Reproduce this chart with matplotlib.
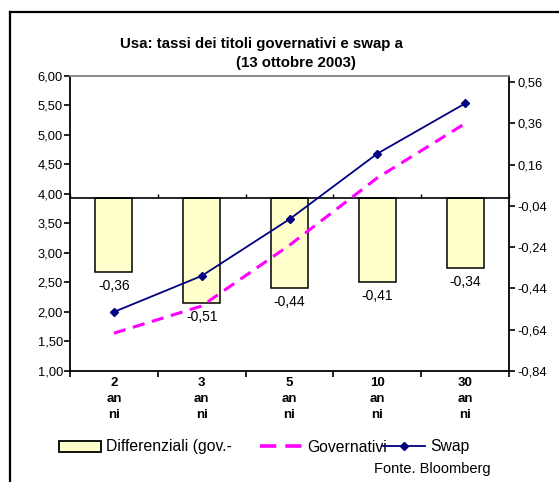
import numpy as np
import matplotlib
matplotlib.use("Agg")
import matplotlib.pyplot as plt
from matplotlib.lines import Line2D
from matplotlib.patches import Patch
from matplotlib.ticker import FixedLocator, FuncFormatter

plt.rcParams['font.family'] = ['Liberation Sans', 'DejaVu Sans']

# scadenze e tassi
scadenze = ["2\nan\nni", "3\nan\nni", "5\nan\nni", "10\nan\nni", "30\nan\nni"]
swap = [2.00, 2.61, 3.57, 4.68, 5.53]
differenziali = [-0.36, -0.51, -0.44, -0.41, -0.34]
governativi = [s + d for s, d in zip(swap, differenziali)]

left_ticks = np.arange(1.0, 6.01, 0.5)
right_ticks = np.round(np.arange(-0.84, 0.57, 0.2), 2)

comma = FuncFormatter(lambda v, _: f"{v:.2f}".replace(".", ","))

fig = plt.figure(figsize=(5.59, 4.82), dpi=100)
ax = fig.add_axes([0.1252, 0.2303, 0.7854, 0.6127])
ax2 = ax.twinx()

x = np.arange(len(scadenze))

# differenziali su scala destra (dietro le linee)
bars = ax2.bar(x, differenziali, width=0.42, color="#FFFFCC", edgecolor="black",
               linewidth=1.1, zorder=2)
for xi, d in zip(x, differenziali):
    ax2.annotate(f"{d:.2f}".replace(".", ","), (xi, d), xytext=(0, -5),
                 textcoords="offset points", ha="center", va="top", fontsize=10)
ax2.set_ylim(-0.84, 0.591)
ax2.yaxis.set_major_locator(FixedLocator(right_ticks))
ax2.yaxis.set_major_formatter(comma)
ax2.tick_params(axis="y", direction="out", length=4, width=1.2, labelsize=9.3, pad=2)

# linea dello zero con tacche tra le categorie
ax2.xaxis.set_visible(True)
ax2.spines["bottom"].set_position(("data", 0))
ax2.spines["bottom"].set_linewidth(1.2)
ax2.spines["left"].set_visible(False)
ax2.spines["top"].set_visible(False)
ax2.spines["right"].set_linewidth(1.3)
ax2.tick_params(axis="x", which="major", length=0, labelbottom=False)
ax2.tick_params(axis="x", which="minor", direction="in", length=3, width=1.0,
                labelbottom=False)

# tassi su scala sinistra
ax.plot(x, governativi, color="#FF00FF", lw=2.2, dashes=(4, 2.5),
        label="Governativi", zorder=3)
ax.plot(x, swap, color="#000080", lw=1.3, marker="D", markersize=4,
        label="Swap", zorder=4)
ax.set_zorder(ax2.get_zorder() + 1)
ax.patch.set_visible(False)

ax.set_ylim(1.0, 6.0)
ax.yaxis.set_major_locator(FixedLocator(left_ticks))
ax.yaxis.set_major_formatter(comma)
ax.tick_params(axis="y", direction="out", length=4, width=1.2, labelsize=9.3, pad=1)

ax.set_xlim(-0.5, len(scadenze) - 0.5)
ax.set_xticks(x)
ax.set_xticklabels(scadenze, fontsize=9.5, fontweight="bold", linespacing=1.45)
ax.xaxis.set_minor_locator(FixedLocator(np.arange(len(scadenze) + 1) - 0.5))
ax.tick_params(axis="x", which="major", length=0, pad=4)
ax.tick_params(axis="x", which="minor", direction="out", length=4, width=1.2)

ax.spines["top"].set_color("#808080")
ax.spines["top"].set_linewidth(1.3)
ax.spines["left"].set_linewidth(1.3)
ax.spines["bottom"].set_linewidth(1.3)
ax.spines["right"].set_visible(False)

fig.text(0.467, 0.909, "Usa: tassi dei titoli governativi e swap a", ha="center",
         va="center", fontsize=10.8, fontweight="bold")
fig.text(0.53, 0.869, "(13 ottobre 2003)", ha="center", va="center",
         fontsize=10.8, fontweight="bold")

# legenda: una voce per blocco
entries = [
    (Patch(facecolor="#FFFFCC", edgecolor="black", linewidth=1.3), "Differenziali (gov.-", 59),
    (Line2D([], [], color="#FF00FF", lw=2.6, dashes=(4.5, 2.5)), "Governativi", 260),
    (Line2D([], [], color="#000080", lw=1.3, marker="D", markersize=4), "Swap", 383),
]
for handle, text, xpix in entries:
    fig.legend([handle], [text], loc="center left",
               bbox_to_anchor=(xpix / 559, 1 - 447 / 482), frameon=False,
               fontsize=11.3, handlelength=2.7, handleheight=0.7,
               handletextpad=0.3, borderpad=0, borderaxespad=0)

fig.text(374 / 559, 1 - 469 / 482, "Fonte. Bloomberg", ha="left", va="center",
         fontsize=10.5)

# cornice esterna
fig.add_artist(Line2D([10 / 559, 10 / 559], [0, 1 - 12 / 482], color="black",
                      lw=1.6, transform=fig.transFigure))
fig.add_artist(Line2D([10 / 559, 1], [1 - 12 / 482, 1 - 12 / 482], color="black",
                      lw=1.6, transform=fig.transFigure))

fig.savefig("out.png", dpi=100)
